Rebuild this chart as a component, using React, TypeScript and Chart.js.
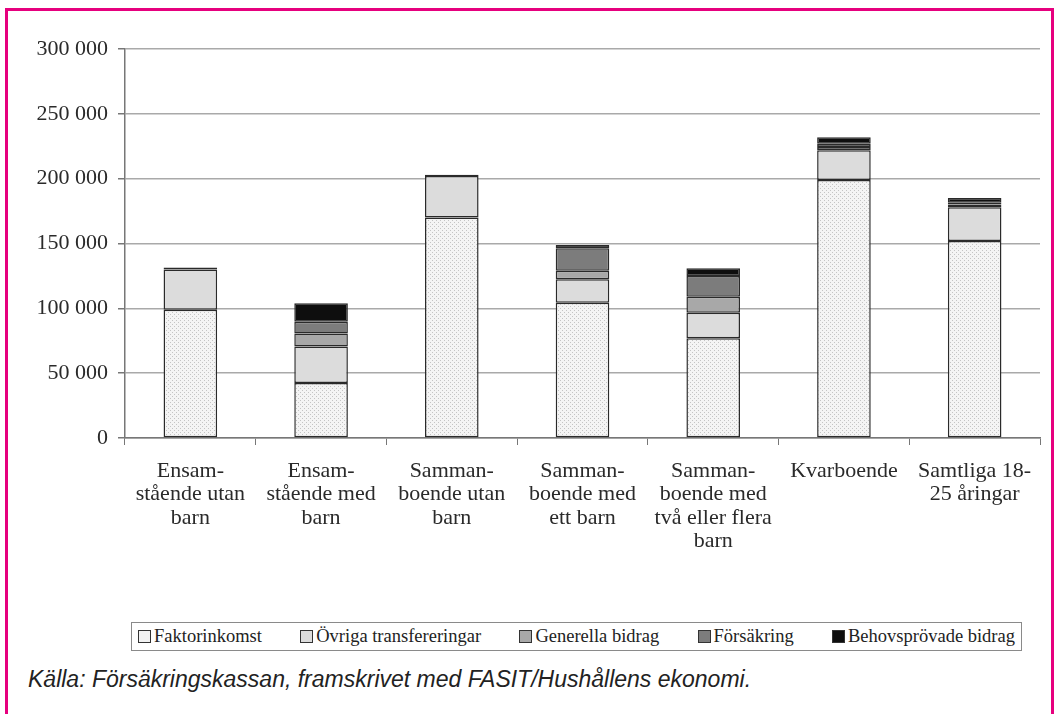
import React, { useEffect, useRef } from "react";
import { Chart, registerables } from "chart.js";

Chart.register(...registerables);

const categories: string[][] = [
  ["Ensam-", "stående utan", "barn"],
  ["Ensam-", "stående med", "barn"],
  ["Samman-", "boende utan", "barn"],
  ["Samman-", "boende med", "ett barn"],
  ["Samman-", "boende med", "två eller flera", "barn"],
  ["Kvarboende"],
  ["Samtliga 18-", "25 åringar"],
];

const faktorinkomst = [99000, 42400, 170000, 104300, 76900, 199000, 152000];
const ovrigaTransfereringar = [31000, 28200, 32000, 18100, 19700, 23000, 26000];
const generellaBidrag = [0, 10000, 0, 6600, 12400, 2500, 2000];
const forsakring = [0, 9000, 0, 17300, 15900, 2500, 1500];
const behovsprovadeBidrag = [1500, 14300, 1000, 2600, 6000, 5000, 3500];

const seriesNames = [
  "Faktorinkomst",
  "Övriga transfereringar",
  "Generella bidrag",
  "Försäkring",
  "Behovsprövade bidrag",
];
const seriesColors = ["#f2f2f2", "#dcdcdc", "#a8a8a8", "#7c7c7c", "#0e0e0e"];

const yTicks = [0, 50000, 100000, 150000, 200000, 250000, 300000];

const SERIF = "'Liberation Serif', 'Times New Roman', serif";

function fmt(v: number): string {
  return String(Math.round(v)).replace(/\B(?=(\d{3})+(?!\d))/g, " ");
}

function makeDotPattern(): CanvasPattern | string {
  const c = document.createElement("canvas");
  c.width = 4;
  c.height = 4;
  const g = c.getContext("2d");
  if (!g) return seriesColors[0];
  g.fillStyle = "#f4f4f4";
  g.fillRect(0, 0, 4, 4);
  g.fillStyle = "#c4c4c4";
  g.fillRect(0, 0, 1, 1);
  g.fillRect(2, 2, 1, 1);
  const p = g.createPattern(c, "repeat");
  return p || seriesColors[0];
}

export default function App() {
  const ref = useRef<HTMLCanvasElement | null>(null);

  useEffect(() => {
    if (!ref.current) return;
    const values = [
      faktorinkomst,
      ovrigaTransfereringar,
      generellaBidrag,
      forsakring,
      behovsprovadeBidrag,
    ];
    const pattern = makeDotPattern();
    const chart = new Chart(ref.current, {
      type: "bar",
      data: {
        labels: categories,
        datasets: values.map((d, i) => ({
          label: seriesNames[i],
          data: d,
          backgroundColor: i === 0 ? (pattern as any) : seriesColors[i],
          borderColor: "#2a2a2a",
          borderWidth: 1.5,
          borderSkipped: false,
          categoryPercentage: 1,
          barPercentage: 0.41,
        })),
      },
      options: {
        animation: false,
        responsive: false,
        layout: { padding: { top: 49, right: 18, left: 0, bottom: 0 } },
        plugins: {
          legend: { display: false },
          tooltip: { enabled: false },
        },
        scales: {
          x: {
            stacked: true,
            grid: {
              drawOnChartArea: false,
              drawTicks: true,
              tickLength: 7,
              color: "#777",
              offset: true,
            },
            border: { color: "#777", width: 1.5 },
            ticks: {
              color: "#2a2a2a",
              font: { family: SERIF, size: 22, lineHeight: 1.05 },
              padding: 15,
              maxRotation: 0,
              autoSkip: false,
            },
            afterFit: (s: any) => {
              s.height = 610 - 438;
            },
          },
          y: {
            stacked: true,
            min: 0,
            max: 300000,
            afterBuildTicks: (s: any) => {
              s.ticks = yTicks.map((v) => ({ value: v }));
            },
            grid: {
              color: "#a9a9a9",
              lineWidth: 1.5,
              tickLength: 7,
              tickColor: "#777",
            },
            border: { color: "#777", width: 1.5 },
            ticks: {
              color: "#2a2a2a",
              font: { family: SERIF, size: 22 },
              padding: 10,
              callback: (v: any) => fmt(Number(v)),
            },
            afterFit: (s: any) => {
              s.width = 125;
            },
          },
        },
      },
    });
    return () => chart.destroy();
  }, []);

  return (
    <div style={{ position: "absolute", left: 0, top: 0, width: 1058, height: 714, background: "#fff", overflow: "hidden" }}>
      <div
        style={{
          position: "absolute",
          left: 5,
          top: 8,
          width: 1043,
          height: 720,
          border: "3px solid #e6007e",
        }}
      />
      <canvas ref={ref} width={1058} height={610} style={{ position: "absolute", left: 0, top: 0 }} />
      <div
        style={{
          position: "absolute",
          left: 131,
          top: 622,
          width: 877,
          height: 27,
          padding: "0 6px",
          border: "1px solid #8a8a8a",
          display: "flex",
          alignItems: "center",
          justifyContent: "space-between",
          fontFamily: SERIF,
          fontSize: 18.5,
          color: "#222",
          whiteSpace: "nowrap",
        }}
      >
        {seriesNames.map((n, i) => (
          <span key={n} style={{ display: "flex", alignItems: "center" }}>
            <span
              style={{
                display: "inline-block",
                width: 11,
                height: 11,
                border: "1px solid #333",
                background: seriesColors[i],
                marginRight: 3,
              }}
            />
            {n}
          </span>
        ))}
      </div>
      <div
        style={{
          position: "absolute",
          left: 28,
          top: 666,
          fontFamily: "'Liberation Sans', Arial, sans-serif",
          fontStyle: "italic",
          fontSize: 23,
          lineHeight: 1.2,
          color: "#222",
          whiteSpace: "nowrap",
        }}
      >
        Källa: Försäkringskassan, framskrivet med FASIT/Hushållens ekonomi.
      </div>
    </div>
  );
}
